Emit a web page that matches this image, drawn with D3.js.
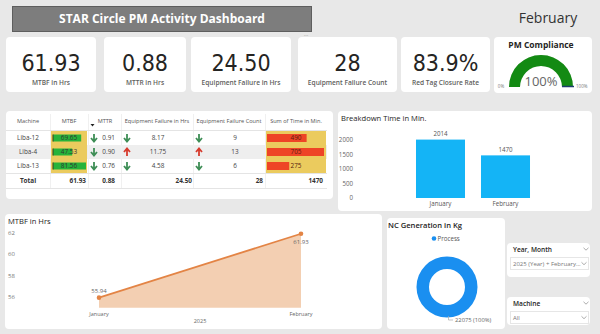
<!DOCTYPE html>
<html>
<head>
<meta charset="utf-8">
<script src="https://cdn.jsdelivr.net/npm/d3@7"></script>
<style>
body { margin: 0; background: #e8e8e8; }
svg { display: block; font-family: "Segoe UI", "Open Sans", sans-serif; }
.num { font-family: "Liberation Sans Narrow", "DejaVu Sans Condensed", sans-serif; }
</style>
</head>
<body>
<div id="chart"></div>
<script>
// ---- data ----
var kpiLabels = ["MTBF in Hrs", "MTTR in Hrs", "Equipment Failure in Hrs", "Equipment Failure Count", "Red Tag Closure Rate"];
var kpiValues = ["61.93", "0.88", "24.50", "28", "83.9%"];
var pmCompliance = 100;

var machines = ["Liba-12", "Liba-4", "Liba-13"];
var mtbf = [69.65, 47.53, 81.56];
var mttr = [0.91, 0.90, 0.76];
var efHrs = [8.17, 11.75, 4.58];
var efCount = [9, 13, 6];
var timeMin = [490, 705, 275];
var mttrTrend = ["down", "down", "down"];
var efHrsTrend = ["down", "up", "down"];
var efCountTrend = ["down", "up", "down"];
var totals = ["61.93", "0.88", "24.50", "28", "1470"];

var months = ["January", "February"];
var breakdown = [2014, 1470];
var breakdownTicks = [0, 500, 1000, 1500, 2000];

var mtbfTrend = [55.94, 61.93];
var mtbfTicks = [56, 58, 60, 62];

var ncCategories = ["Process"];
var ncValues = [22075];

// ---- drawing ----
var svg = d3.select("#chart").append("svg")
    .attr("width", 600)
    .attr("height", 334);

svg.append("rect").attr("width", 600).attr("height", 334).attr("fill", "#e8e8e8");

function panel(x, y, w, h) {
    return svg.append("rect")
        .attr("x", x).attr("y", y).attr("width", w).attr("height", h)
        .attr("rx", 4).attr("fill", "#fff");
}

// header
svg.append("rect")
    .attr("x", 12.5).attr("y", 6.5).attr("width", 299).attr("height", 25)
    .attr("fill", "#7d7d7d").attr("stroke", "#5e5e5e");
svg.append("text")
    .attr("x", 162).attr("y", 23)
    .attr("text-anchor", "middle")
    .attr("fill", "#fff").attr("font-weight", "bold").attr("font-size", 12)
    .text("STAR Circle PM Activity Dashboard");
svg.append("text")
    .attr("x", 306).attr("y", 37).attr("text-anchor", "middle")
    .attr("fill", "#888").attr("font-size", 6).text("···");
svg.append("text")
    .attr("x", 548).attr("y", 23).attr("text-anchor", "middle")
    .attr("fill", "#333").attr("font-size", 14)
    .text("February");

// KPI cards
var cardX = [6, 104, 191, 298, 401];
var cardW = [90, 82, 100, 99, 89];
kpiValues.forEach(function(v, i) {
    panel(cardX[i], 37, cardW[i], 55);
    var cx = cardX[i] + cardW[i] / 2;
    svg.append("text").attr("class", "num")
        .attr("x", cx).attr("y", 71).attr("text-anchor", "middle")
        .attr("fill", "#252423").attr("font-size", 23)
        .text(v);
    svg.append("text")
        .attr("x", cx).attr("y", 85).attr("text-anchor", "middle")
        .attr("fill", "#605e5c").attr("font-size", 6.6).attr("font-weight", 600)
        .text(kpiLabels[i]);
});

// PM compliance gauge
panel(494, 37, 98, 56);
svg.append("text")
    .attr("x", 541).attr("y", 48).attr("text-anchor", "middle")
    .attr("fill", "#252423").attr("font-size", 8.5).attr("font-weight", "bold")
    .text("PM Compliance");
var gaugeAngle = d3.scaleLinear().domain([0, 100]).range([-Math.PI / 2, Math.PI / 2]);
var gArc = d3.arc().innerRadius(21).outerRadius(32);
var gauge = svg.append("g").attr("transform", "translate(541,87)");
gauge.append("path")
    .attr("d", gArc({ startAngle: -Math.PI / 2, endAngle: Math.PI / 2 }))
    .attr("fill", "#e0e0e0");
gauge.append("path")
    .attr("d", gArc({ startAngle: gaugeAngle(0), endAngle: gaugeAngle(pmCompliance) }))
    .attr("fill", "#138a13");
gauge.append("line")
    .attr("x1", 21).attr("x2", 33).attr("y1", -0.5).attr("y2", -0.5)
    .attr("stroke", "#1f3d6e").attr("stroke-width", 1.5);
gauge.append("text")
    .attr("y", -1).attr("text-anchor", "middle")
    .attr("fill", "#666").attr("font-size", 13)
    .text(pmCompliance + "%");
gauge.append("text")
    .attr("x", -40).attr("y", 1).attr("text-anchor", "middle")
    .attr("fill", "#777").attr("font-size", 4.5).text("0%");
gauge.append("text")
    .attr("x", 35).attr("y", 1)
    .attr("fill", "#777").attr("font-size", 4.5).text("100%");

// ---- table ----
panel(6, 111, 327, 88);
var colX = [6, 50, 88, 121, 193, 265, 327];
var headers = ["Machine", "MTBF", "MTTR", "Equipment Failure in Hrs", "Equipment Failure Count", "Sum of Time in Min."];
var rowY = [138, 152, 166];
var rowH = 14;
var tbl = svg.append("g").attr("font-size", 6.4);

tbl.append("rect")
    .attr("x", 6).attr("y", rowY[1] - 7).attr("width", 321).attr("height", rowH)
    .attr("fill", "#eeeeee");

headers.forEach(function(h, i) {
    tbl.append("text")
        .attr("x", i == 2 ? 105 : (colX[i] + colX[i + 1]) / 2).attr("y", 123)
        .attr("text-anchor", "middle").attr("fill", "#555").attr("font-size", 5.6)
        .text(h);
});
tbl.append("path").attr("d", "M90.5,124 h4 l-2,2.5 z").attr("fill", "#222");

for (var i = 1; i < colX.length - 1; i++) {
    tbl.append("line")
        .attr("x1", colX[i] + 0.5).attr("x2", colX[i] + 0.5)
        .attr("y1", 114).attr("y2", 188)
        .attr("stroke", "#f0f0f0");
}
[130.5, 173.5, 188.5].forEach(function(y) {
    tbl.append("line").attr("x1", 6).attr("x2", 327).attr("y1", y).attr("y2", y)
        .attr("stroke", "#e4e4e4");
});

// yellow background cells
tbl.append("rect").attr("x", 51).attr("y", 131).attr("width", 36).attr("height", 42).attr("fill", "#ebcb5e");
tbl.append("rect").attr("x", 266).attr("y", 131).attr("width", 60).attr("height", 42).attr("fill", "#ebcb5e");

var mtbfBar = d3.scaleLinear().domain([0, d3.max(mtbf)]).range([0, 33]);
var timeBar = d3.scaleLinear().domain([0, d3.max(timeMin)]).range([0, 57]);

function arrow(x, y, dir) {
    var s = dir == "down" ? 1 : -1;
    var col = dir == "down" ? "#3e8e56" : "#d63a2c";
    tbl.append("path")
        .attr("d", "M" + x + "," + (y - 4 * s) + " V" + (y + 3 * s) +
            " M" + (x - 3) + "," + y + " L" + x + "," + (y + 3.5 * s) + " L" + (x + 3) + "," + y)
        .attr("fill", "none").attr("stroke", col).attr("stroke-width", 1.8)
        .attr("stroke-linejoin", "miter");
}

machines.forEach(function(m, r) {
    var y = rowY[r];
    tbl.append("text").attr("x", 28).attr("y", y + 2.3).attr("text-anchor", "middle").attr("fill", "#444").text(m);

    tbl.append("rect").attr("x", 53).attr("y", y - 3.5).attr("width", mtbfBar(mtbf[r])).attr("height", 7)
        .attr("fill", "#26b33a");
    tbl.append("rect").attr("x", 52.5).attr("y", y - 3.5).attr("width", 1).attr("height", 7).attr("fill", "#3d3d1a");
    tbl.append("text").attr("x", 69).attr("y", y + 2.3).attr("text-anchor", "middle").attr("fill", "#333")
        .text(d3.format(".2f")(mtbf[r]));

    arrow(94, y, mttrTrend[r]);
    tbl.append("text").attr("x", 115).attr("y", y + 2.3).attr("text-anchor", "end").attr("fill", "#444")
        .text(d3.format(".2f")(mttr[r]));

    arrow(127, y, efHrsTrend[r]);
    tbl.append("text").attr("x", 158).attr("y", y + 2.3).attr("text-anchor", "middle").attr("fill", "#444")
        .text(d3.format(".2f")(efHrs[r]));

    arrow(199, y, efCountTrend[r]);
    tbl.append("text").attr("x", 235).attr("y", y + 2.3).attr("text-anchor", "middle").attr("fill", "#444")
        .text(efCount[r]);

    tbl.append("rect").attr("x", 267).attr("y", y - 4).attr("width", timeBar(timeMin[r])).attr("height", 8)
        .attr("fill", "#ee4426");
    tbl.append("text").attr("x", 296).attr("y", y + 2.3).attr("text-anchor", "middle").attr("fill", "#5a1a10")
        .text(timeMin[r]);
});

var totalX = [86, 115, 192, 263, 323];
tbl.append("text").attr("x", 28).attr("y", 182.5).attr("text-anchor", "middle")
    .attr("font-weight", "bold").attr("fill", "#333").text("Total");
totals.forEach(function(t, i) {
    tbl.append("text").attr("x", totalX[i]).attr("y", 182.5).attr("text-anchor", "end")
        .attr("font-weight", "bold").attr("fill", "#333").text(t);
});

// ---- breakdown bar chart ----
panel(338, 111, 254, 100);
svg.append("text").attr("x", 341).attr("y", 121).attr("fill", "#252423").attr("font-size", 7.6)
    .text("Breakdown Time in Min.");
var bx = d3.scaleBand().domain(months).range([400, 546]).padding(0.246);
var by = d3.scaleLinear().domain([0, 2000]).range([198, 140]);
var bg = svg.append("g").attr("font-size", 6.2);
breakdownTicks.forEach(function(t) {
    bg.append("text").attr("x", 353).attr("y", by(t) + 2).attr("text-anchor", "end").attr("fill", "#666").text(t);
});
bg.selectAll(".bar").data(breakdown).enter().append("rect")
    .attr("x", function(d, i) { return bx(months[i]); })
    .attr("y", function(d) { return by(d); })
    .attr("width", bx.bandwidth())
    .attr("height", function(d) { return by(0) - by(d); })
    .attr("fill", "#14b4f6");
bg.selectAll(".lbl").data(breakdown).enter().append("text")
    .attr("x", function(d, i) { return bx(months[i]) + bx.bandwidth() / 2; })
    .attr("y", function(d) { return by(d) - 3.5; })
    .attr("text-anchor", "middle").attr("fill", "#555")
    .text(function(d) { return d; });
months.forEach(function(m) {
    bg.append("text").attr("x", bx(m) + bx.bandwidth() / 2).attr("y", 206)
        .attr("text-anchor", "middle").attr("fill", "#555").text(m);
});

// ---- MTBF area chart ----
panel(5, 214, 377, 115);
svg.append("text").attr("x", 8).attr("y", 224).attr("fill", "#252423").attr("font-size", 7.6)
    .text("MTBF in Hrs");
var lx = d3.scalePoint().domain(months).range([99, 301]);
var ly = d3.scaleLinear().domain([55, 62]).range([307.7, 233]);
var lg = svg.append("g").attr("font-size", 6);
mtbfTicks.forEach(function(t) {
    lg.append("text").attr("x", 8).attr("y", ly(t) + 2).attr("fill", "#777").text(t);
});
var pts = mtbfTrend.map(function(v, i) { return [lx(months[i]), ly(v)]; });
lg.append("path")
    .attr("d", d3.area().x(function(d) { return d[0]; }).y0(ly(55)).y1(function(d) { return d[1]; })(pts))
    .attr("fill", "#f3cfb2");
lg.append("path")
    .attr("d", d3.line()(pts))
    .attr("fill", "none").attr("stroke", "#e38445").attr("stroke-width", 1.8);
lg.selectAll("circle").data(pts).enter().append("circle")
    .attr("cx", function(d) { return d[0]; }).attr("cy", function(d) { return d[1]; })
    .attr("r", 2.3).attr("fill", "#e38445");
lg.append("text").attr("x", pts[0][0]).attr("y", pts[0][1] - 5).attr("text-anchor", "middle")
    .attr("fill", "#666").text(mtbfTrend[0]);
lg.append("text").attr("x", pts[1][0]).attr("y", pts[1][1] + 10).attr("text-anchor", "middle")
    .attr("fill", "#666").text(mtbfTrend[1]);
months.forEach(function(m) {
    lg.append("text").attr("x", lx(m)).attr("y", 315.5).attr("text-anchor", "middle").attr("fill", "#666")
        .attr("font-size", 5.5).text(m);
});
lg.append("text").attr("x", 200).attr("y", 322.5).attr("text-anchor", "middle").attr("fill", "#666")
    .attr("font-size", 5.5).text("2025");

// ---- NC donut ----
panel(387, 218, 118, 111);
svg.append("text").attr("x", 388).attr("y", 228).attr("fill", "#252423").attr("font-size", 7.6)
    .attr("font-weight", 600).text("NC Generation in Kg");
var ncColor = d3.scaleOrdinal().domain(ncCategories).range(["#1a8ff0"]);
svg.append("circle").attr("cx", 434).attr("cy", 238.5).attr("r", 2.3).attr("fill", ncColor(ncCategories[0]));
svg.append("text").attr("x", 437.5).attr("y", 240.8).attr("fill", "#555").attr("font-size", 6.2).text(ncCategories[0]);
var pie = d3.pie().sort(null);
var ncArc = d3.arc().innerRadius(18).outerRadius(30.5);
var dg = svg.append("g").attr("transform", "translate(447,287)");
dg.selectAll("path").data(pie(ncValues)).enter().append("path")
    .attr("d", ncArc).attr("fill", function(d, i) { return ncColor(ncCategories[i]); });
var ncTotal = d3.sum(ncValues);
svg.append("path").attr("d", "M448.5,316 V320 H453").attr("fill", "none").attr("stroke", "#aaa").attr("stroke-width", 0.7);
svg.append("text").attr("x", 455).attr("y", 322).attr("fill", "#666").attr("font-size", 5.8)
    .text(ncValues[0] + " (" + d3.format(".0%")(ncValues[0] / ncTotal) + ")");

// ---- slicers ----
function chevron(x, y) {
    svg.append("path").attr("d", "M" + (x - 2.5) + "," + (y - 1.2) + " L" + x + "," + (y + 1.2) + " L" + (x + 2.5) + "," + (y - 1.2))
        .attr("fill", "none").attr("stroke", "#888").attr("stroke-width", 0.7);
}
function slicer(y, h, title, value) {
    panel(507, y, 83, h);
    svg.append("text").attr("x", 513).attr("y", y + 9).attr("fill", "#252423").attr("font-size", 6.6)
        .attr("font-weight", 600).text(title);
    chevron(586, y + 6);
    svg.append("rect").attr("x", 510.5).attr("y", y + 14.5).attr("width", 78).attr("height", 12)
        .attr("fill", "#fff").attr("stroke", "#e6e6e6");
    svg.append("text").attr("x", 513).attr("y", y + 22.8).attr("fill", "#777").attr("font-size", 6)
        .text(value);
    chevron(584, y + 20.5);
}
slicer(243, 34, "Year, Month", "2025 (Year) + February...");
slicer(297, 28, "Machine", "All");
</script>
</body>
</html>
